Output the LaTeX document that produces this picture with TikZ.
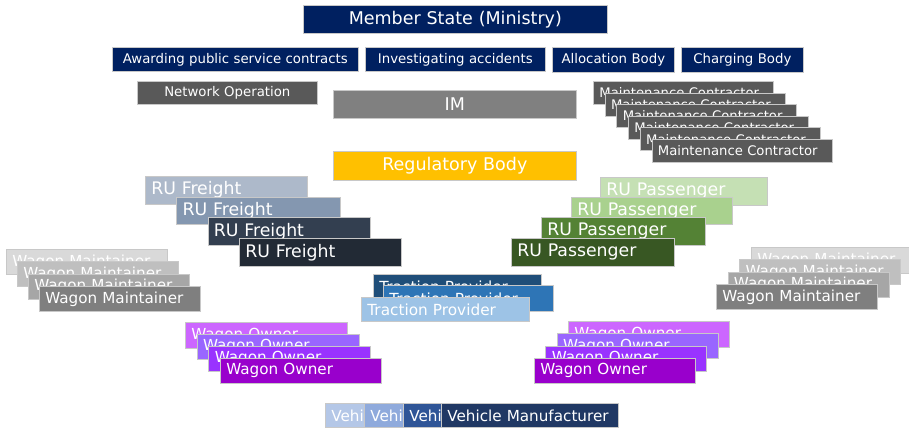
\documentclass[tikz,border=0pt]{standalone}
\usepackage{fontspec}
\setmainfont{DejaVu Sans}
\definecolor{navy}{HTML}{002060}
\definecolor{dgray}{HTML}{595959}
\definecolor{mgray}{HTML}{808080}
\definecolor{gold}{HTML}{FFC000}
\definecolor{rf1}{HTML}{ADB9CA}
\definecolor{rf2}{HTML}{8497B0}
\definecolor{rf3}{HTML}{333F50}
\definecolor{rf4}{HTML}{222A35}
\definecolor{rp1}{HTML}{C5E0B4}
\definecolor{rp2}{HTML}{A9D18E}
\definecolor{rp3}{HTML}{548235}
\definecolor{rp4}{HTML}{385723}
\definecolor{wm1}{HTML}{D9D9D9}
\definecolor{wm2}{HTML}{BFBFBF}
\definecolor{wm3}{HTML}{A6A6A6}
\definecolor{wm4}{HTML}{7F7F7F}
\definecolor{tp1}{HTML}{1F4E79}
\definecolor{tp2}{HTML}{2E75B6}
\definecolor{tp3}{HTML}{9DC3E6}
\definecolor{wo1}{HTML}{CC66FF}
\definecolor{wo2}{HTML}{9966FF}
\definecolor{wo3}{HTML}{9933FF}
\definecolor{wo4}{HTML}{9900CC}
\definecolor{vm1}{HTML}{B4C7E7}
\definecolor{vm2}{HTML}{8FAADC}
\definecolor{vm3}{HTML}{2F5597}
\definecolor{vm4}{HTML}{203864}
\definecolor{edge}{HTML}{C8C8C8}
\newcommand{\fsz}[1]{\fontsize{#1}{#1}\selectfont}
% \lbox{name}{x}{y}{w}{h}{fill}{size}{text}  left aligned text
\newcommand{\lbox}[8]{%
  \node[bx, fill=#6, minimum height=#5pt, text width=#4pt-12pt, align=left,
        font=\fsz{#7}] (#1) at (#2,#3) {#8};}
\newcommand{\cbox}[8]{%
  \node[bx, fill=#6, minimum height=#5pt, text width=#4pt-12pt, align=center,
        font=\fsz{#7}] (#1) at (#2,#3) {#8};}
\tikzset{bx/.style={draw=edge, line width=0.7pt, text=white, inner xsep=6pt,
  inner ysep=0pt, anchor=north west}}
\begin{document}
\begin{tikzpicture}[x=1pt,y=-1pt]
\useasboundingbox (0,0) rectangle (909,428);
% top
\cbox{ms}{303}{5}{304}{28}{navy}{17.5}{Member State (Ministry)}
\cbox{aw}{112}{47}{246}{24}{navy}{13.3}{Awarding public service contracts}
\cbox{ia}{365}{47}{180}{24}{navy}{13.3}{Investigating accidents}
\cbox{ab}{552}{47}{122}{25}{navy}{13.3}{Allocation Body}
\cbox{cb}{681}{47}{122}{25}{navy}{13.3}{Charging Body}
\cbox{no}{137}{81}{180}{23}{dgray}{13.3}{Network Operation}
\cbox{im}{333}{90}{243}{28}{mgray}{17.5}{IM}
\cbox{rb}{333}{151}{243}{29}{gold}{17.5}{Regulatory Body}
% maintenance contractors
\lbox{mc1}{593}{81}{180}{23}{dgray}{13.2}{Maintenance Contractor}
\lbox{mc2}{604.7}{92.6}{180}{23}{dgray}{13.2}{Maintenance Contractor}
\lbox{mc3}{616.4}{104.2}{180}{23}{dgray}{13.2}{Maintenance Contractor}
\lbox{mc4}{628.1}{115.8}{180}{23}{dgray}{13.2}{Maintenance Contractor}
\lbox{mc5}{639.8}{127.4}{180}{23}{dgray}{13.2}{Maintenance Contractor}
\lbox{mc6}{651.5}{139}{180}{23}{dgray}{13.2}{Maintenance Contractor}
% RU freight
\lbox{rf1}{145}{176}{162}{27.5}{rf1}{17.3}{RU Freight}
\lbox{rf2}{176.3}{196.7}{164}{27.5}{rf2}{17.3}{RU Freight}
\lbox{rf3}{207.6}{217.4}{162}{27.5}{rf3}{17.3}{RU Freight}
\lbox{rf4}{239}{238}{162}{28}{rf4}{17.3}{RU Freight}
% RU passenger
\lbox{rp1}{600}{177}{167}{27.5}{rp1}{17.3}{RU Passenger}
\lbox{rp2}{571}{196.5}{161}{27.5}{rp2}{17.3}{RU Passenger}
\lbox{rp3}{541}{217}{164}{27.5}{rp3}{17.3}{RU Passenger}
\lbox{rp4}{511}{238}{163}{28}{rp4}{17.3}{RU Passenger}
% wagon maintainers left
\lbox{wl1}{6}{249}{161}{25}{wm1}{15.2}{Wagon Maintainer}
\lbox{wl2}{17}{261.3}{161}{25}{wm2}{15.2}{Wagon Maintainer}
\lbox{wl3}{28}{273.6}{161}{25}{wm3}{15.2}{Wagon Maintainer}
\lbox{wl4}{39}{286}{161}{25}{wm4}{15.2}{Wagon Maintainer}
% wagon maintainers right
\lbox{wr1}{751}{247}{158}{26}{wm1}{15.2}{Wagon Maintainer}
\lbox{wr2}{739.3}{259.3}{161}{25}{wm2}{15.2}{Wagon Maintainer}
\lbox{wr3}{727.6}{271.6}{161}{25}{wm3}{15.2}{Wagon Maintainer}
\lbox{wr4}{716}{284}{161}{25}{wm4}{15.2}{Wagon Maintainer}
% traction provider
\lbox{tp1}{373}{274}{168}{25}{tp1}{15.3}{Traction Provider}
\lbox{tp2}{383}{285}{170}{26}{tp2}{15.3}{Traction Provider}
\lbox{tp3}{361}{297}{168}{24}{tp3}{15.3}{Traction Provider}
% wagon owners left
\lbox{ol1}{185}{322}{162}{26}{wo1}{15.2}{Wagon Owner}
\lbox{ol2}{196.7}{334}{162}{25}{wo2}{15.2}{Wagon Owner}
\lbox{ol3}{208.4}{346}{162}{25}{wo3}{15.2}{Wagon Owner}
\lbox{ol4}{220}{358}{161}{25}{wo4}{15.2}{Wagon Owner}
% wagon owners right
\lbox{or1}{568}{321}{161}{26}{wo1}{15.2}{Wagon Owner}
\lbox{or2}{556.7}{333.3}{161}{25}{wo2}{15.2}{Wagon Owner}
\lbox{or3}{545.4}{345.6}{161}{25}{wo3}{15.2}{Wagon Owner}
\lbox{or4}{534}{358}{161}{25}{wo4}{15.2}{Wagon Owner}
% vehicle manufacturers
\lbox{vm1}{325}{403}{177}{24}{vm1}{15.2}{Vehicle Manufacturer}
\lbox{vm2}{364}{403}{177}{24}{vm2}{15.2}{Vehicle Manufacturer}
\lbox{vm3}{403}{403}{177}{24}{vm3}{15.2}{Vehicle Manufacturer}
\lbox{vm4}{441}{403}{177}{24}{vm4}{15.2}{Vehicle Manufacturer}
\end{tikzpicture}
\end{document}
